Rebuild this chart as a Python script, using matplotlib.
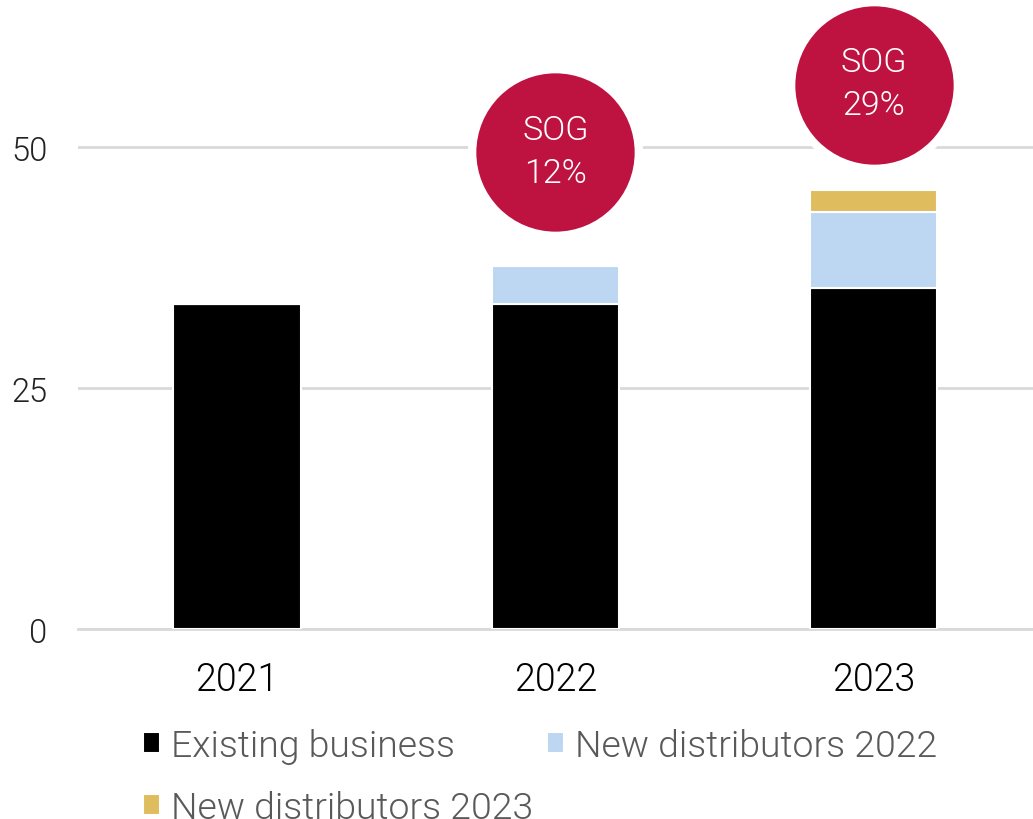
import matplotlib
matplotlib.use("Agg")
import matplotlib.pyplot as plt
import numpy as np

years = ["2021", "2022", "2023"]
existing = [33.7, 33.7, 35.4]
new_2022 = [0.0, 4.0, 7.9]
new_2023 = [0.0, 0.0, 2.3]
sog_years = [1, 2]
sog_labels = ["SOG\n12%", "SOG\n29%"]
sog_y = [49.5, 56.5]

plt.rcParams["font.family"] = ["Roboto", "DejaVu Sans"]
plt.rcParams["font.weight"] = 300

fig = plt.figure(figsize=(10.33, 8.2), dpi=100)
ax = fig.add_axes([0.0755, 0.2317, 0.9245, 0.7683])

x = np.arange(len(years))
w = 0.4
b1 = ax.bar(x, existing, w, color="#000000", edgecolor="white", linewidth=1.5,
            label="Existing business", zorder=3)
b2 = ax.bar(x, new_2022, w, bottom=existing, color="#BDD7F2", edgecolor="white",
            linewidth=1.5, label="New distributors 2022", zorder=3)
base = np.array(existing) + np.array(new_2022)
b3 = ax.bar(x, new_2023, w, bottom=base, color="#DFBD5F", edgecolor="white",
            linewidth=1.5, label="New distributors 2023", zorder=3)

# SOG bubbles above the growth years
ax.scatter(sog_years, sog_y, s=14400, color="#BE1241", edgecolors="white",
           linewidths=6, zorder=4)
for xi, yi, lab in zip(sog_years, sog_y, sog_labels):
    ax.text(xi, yi + 0.1, lab, ha="center", va="center", color="white",
            fontsize=24.5, fontweight=300, linespacing=1.45, zorder=5)

ax.set_xlim(-0.5, 2.5)
ax.set_ylim(0, 65.4)
ax.set_yticks([0, 25, 50])
ax.set_xticks(x)
ax.set_xticklabels(years)
ax.yaxis.grid(True, color="#D9D9D9", linewidth=2, zorder=0)
ax.set_axisbelow(True)
for s in ["top", "right", "left"]:
    ax.spines[s].set_visible(False)
ax.spines["bottom"].set_color("#D9D9D9")
ax.spines["bottom"].set_linewidth(2)
ax.tick_params(axis="both", length=0)
ax.tick_params(axis="y", pad=22, labelsize=23.5, labelcolor="#222222")
ax.tick_params(axis="x", pad=23, labelsize=27, labelcolor="#000000")

handles = [b1, b3, b2]
labels = [h.get_label() for h in handles]
leg = fig.legend(handles, labels, ncol=2, loc="upper left",
                 bbox_to_anchor=(0.138, 0.111), frameon=False,
                 fontsize=26.9, handlelength=0.48, handleheight=0.48,
                 handletextpad=0.29, columnspacing=0.35, labelspacing=0.7,
                 borderaxespad=0, borderpad=0)
for t in leg.get_texts():
    t.set_color("#595959")

fig.savefig("out.png", dpi=100)
